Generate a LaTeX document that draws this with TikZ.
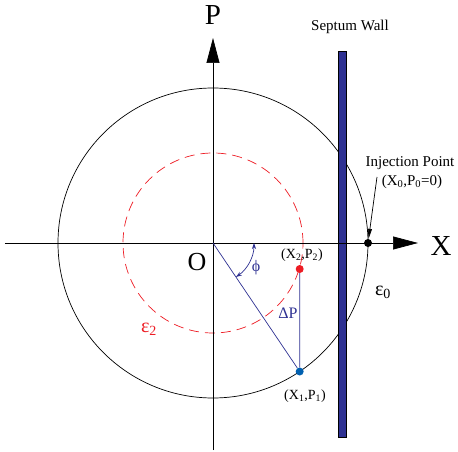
\documentclass[tikz,border=0pt]{standalone}
\usepackage{fontspec}
\setmainfont{Liberation Serif}
\usetikzlibrary{arrows.meta}
\definecolor{wallblue}{HTML}{2E3192}
\definecolor{dotblue}{HTML}{0060B0}
\definecolor{ered}{HTML}{ED1C24}
\begin{document}
\begin{tikzpicture}[x=1pt,y=1pt,axis/.style={line width=.7pt,-{Triangle[length=25pt,width=13pt]}},dot/.style={circle,inner sep=0pt,minimum size=8pt},lbl/.style={font=\fontsize{14}{16}\selectfont,inner sep=1pt},big/.style={font=\fontsize{29}{31}\selectfont,inner sep=1pt},bl/.style={draw=wallblue,line width=.7pt}]
\useasboundingbox (-213,-209) rectangle (245,243);
\coordinate (O) at (0,0);
\coordinate (xs) at (-208,0); \coordinate (xe) at (205,0);
\coordinate (ps) at (0,-207); \coordinate (pe) at (0,205);
\draw[line width=.7pt] (O) circle (155);
\draw[ered,line width=.7pt,dash pattern=on 10pt off 6pt] (O) circle (90);
\node[draw=black,fill=wallblue,minimum width=8pt,minimum height=386pt,inner sep=0pt] (wall) at (129,-1) {};
\draw[axis] (xs)--(xe);
\draw[axis] (ps)--(pe);
\node[dot,fill=black] (inj) at (155,0) {};
\node[dot,fill=dotblue] (x1) at (-56:155) {};
\node[dot,fill=ered] (x2) at (86.7,-26) {};
\draw[bl] (O)--(x1); \draw[bl] (x2)--(x1);
\draw[bl,{Stealth[length=6pt,width=4pt]}-{Stealth[length=6pt,width=4pt]}] (-56:41) arc (-56:0:41);
\coordinate (injtail) at (164,66);
\draw[line width=.7pt,-{Triangle[length=10pt,width=4pt]}] (injtail)--(inj);
% labels
\node[big] (plab) at (0,228) {P};
\node[big] (xlab) at (228,-3) {X};
\node[font=\fontsize{26}{28}\selectfont,inner sep=1pt] (olab) at (-16,-19) {O};
\node[lbl,font=\fontsize{15}{17}\selectfont] (wlab) at (137,216) {Septum Wall};
\node[lbl,font=\fontsize{15}{17}\selectfont] (ilab) at (197,80) {Injection Point};
\node[lbl,font=\fontsize{15}{17}\selectfont] (i0lab) at (199,61) {(X\textsubscript{0},P\textsubscript{0}=0)};
\node[lbl] (x2lab) at (89,-12) {(X\textsubscript{2},P\textsubscript{2})};
\node[lbl] (x1lab) at (92,-153) {(X\textsubscript{1},P\textsubscript{1})};
\node[lbl,font=\fontsize{16}{18}\selectfont,text=wallblue] (dplab) at (75,-70) {ΔP};
\node[lbl,font=\fontsize{16}{18}\selectfont,text=wallblue] (philab) at (43,-25) {ϕ};
\node[font=\fontsize{20}{22}\selectfont,inner sep=1pt] (e0lab) at (170,-49) {ε\textsubscript{0}};
\node[font=\fontsize{20}{22}\selectfont,inner sep=1pt,text=ered] (e2lab) at (-64,-86) {ε\textsubscript{2}};
\end{tikzpicture}
\end{document}
